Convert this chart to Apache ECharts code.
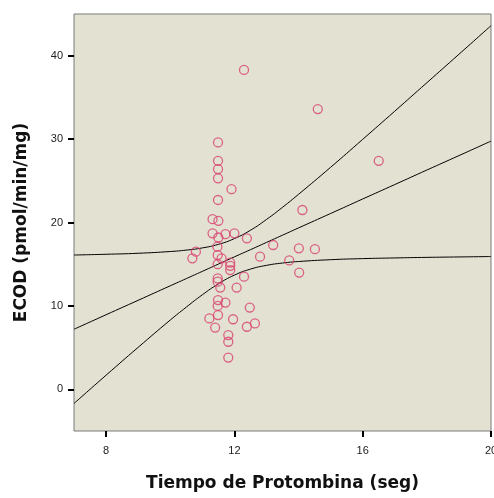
<!DOCTYPE html>
<html>
<head>
<meta charset="utf-8">
<script src="https://cdn.jsdelivr.net/npm/echarts@6/dist/echarts.min.js"></script>
<style>
html,body{margin:0;padding:0;background:#fff;}
#chart{width:494px;height:498px;}
</style>
</head>
<body>
<div id="chart"></div>
<script>
// Scatter data: Tiempo de Protombina (seg) vs ECOD (pmol/min/mg)
var tiempo = [12.30,14.60,16.50,14.12,13.21,14.01,14.51,12.80,13.71,14.02,
  11.49,11.49,11.49,11.49,11.91,11.49,11.32,11.50,11.32,11.50,
  11.72,12.00,12.39,11.47,10.80,10.69,11.48,11.60,11.48,11.87,
  11.87,11.87,11.48,11.48,11.56,12.30,12.07,11.49,11.72,11.48,
  12.48,11.22,11.49,11.96,11.40,12.39,12.64,11.81,11.81,11.81];
var ecod = [38.3,33.6,27.4,21.5,17.3,16.9,16.8,15.9,15.45,14.0,
  29.6,27.4,26.4,25.3,24.0,22.7,20.4,20.2,18.7,18.2,
  18.6,18.7,18.1,17.1,16.5,15.7,16.1,15.7,15.0,15.2,
  14.8,14.3,13.3,12.9,12.2,13.5,12.2,10.7,10.4,10.0,
  9.8,8.5,8.9,8.4,7.4,7.5,7.9,6.5,5.7,3.8];

// Fit line and confidence band
var lineX  = [7, 8, 9, 10, 10.5, 11, 11.5, 12, 12.5, 13, 13.5, 14, 15, 16, 17, 18, 19, 20];
var fitY   = [7.2, 8.94, 10.67, 12.41, 13.27, 14.14, 15.01, 15.88, 16.74, 17.61, 18.48, 19.35, 21.08, 22.82, 24.55, 26.29, 28.02, 29.76];
var upperY = [16.10, 16.19, 16.31, 16.52, 16.69, 16.95, 17.38, 18.07, 19.07, 20.36, 21.82, 23.38, 26.62, 29.97, 33.35, 36.76, 40.17, 43.60];
var lowerY = [-1.70, 1.69, 5.03, 8.30, 9.85, 11.33, 12.64, 13.69, 14.41, 14.86, 15.14, 15.32, 15.54, 15.67, 15.75, 15.82, 15.87, 15.92];

var xTicks = [8, 12, 16, 20];
var yTicks = [0, 10, 20, 30, 40];

function pairs(xs, ys){ return xs.map(function(x,i){ return [x, ys[i]]; }); }

var lineStyle = {color:'#000', width:1};
function bandSeries(ys){
  return {type:'line', data:pairs(lineX, ys), smooth:true, symbol:'none', silent:true,
    lineStyle:lineStyle, z:3};
}

var chart = echarts.init(document.getElementById('chart'), null, {renderer:'canvas'});
chart.setOption({
  animation:false,
  grid:{left:74, right:3, top:14, bottom:67, show:true, backgroundColor:'#e2e1d2',
    borderColor:'#7a7a7a', borderWidth:1, containLabel:false, outerBoundsMode:'none'},
  xAxis:{type:'value', min:7, max:20,
    name:'Tiempo de Protombina (seg)', nameLocation:'middle', nameGap:44,
    nameTextStyle:{fontFamily:'DejaVu Sans', fontWeight:'bold', fontSize:17, color:'#111'},
    axisLine:{show:false, onZero:false},
    axisTick:{show:true, length:6, customValues:xTicks, lineStyle:{color:'#000', width:2}},
    axisLabel:{customValues:xTicks, margin:14, fontFamily:'Liberation Sans', fontSize:11, color:'#222',
      showMaxLabel:true, hideOverlap:false},
    splitLine:{show:false}},
  yAxis:{type:'value', min:-5, max:45,
    name:'ECOD (pmol/min/mg)', nameLocation:'middle', nameGap:44, nameRotate:90,
    nameTextStyle:{fontFamily:'DejaVu Sans', fontWeight:'bold', fontSize:17, color:'#111'},
    axisLine:{show:false, onZero:false},
    axisTick:{show:true, length:6, customValues:yTicks, lineStyle:{color:'#000', width:2}},
    axisLabel:{customValues:yTicks, margin:11, fontFamily:'Liberation Sans', fontSize:11, color:'#222'},
    splitLine:{show:false}},
  series:[
    {type:'scatter', data:pairs(tiempo, ecod), symbol:'circle', symbolSize:9,
      itemStyle:{color:'rgba(0,0,0,0)', borderColor:'#d9416f', borderWidth:1.3}, z:4},
    bandSeries(fitY),
    bandSeries(upperY),
    bandSeries(lowerY)
  ]
});
</script>
</body>
</html>
